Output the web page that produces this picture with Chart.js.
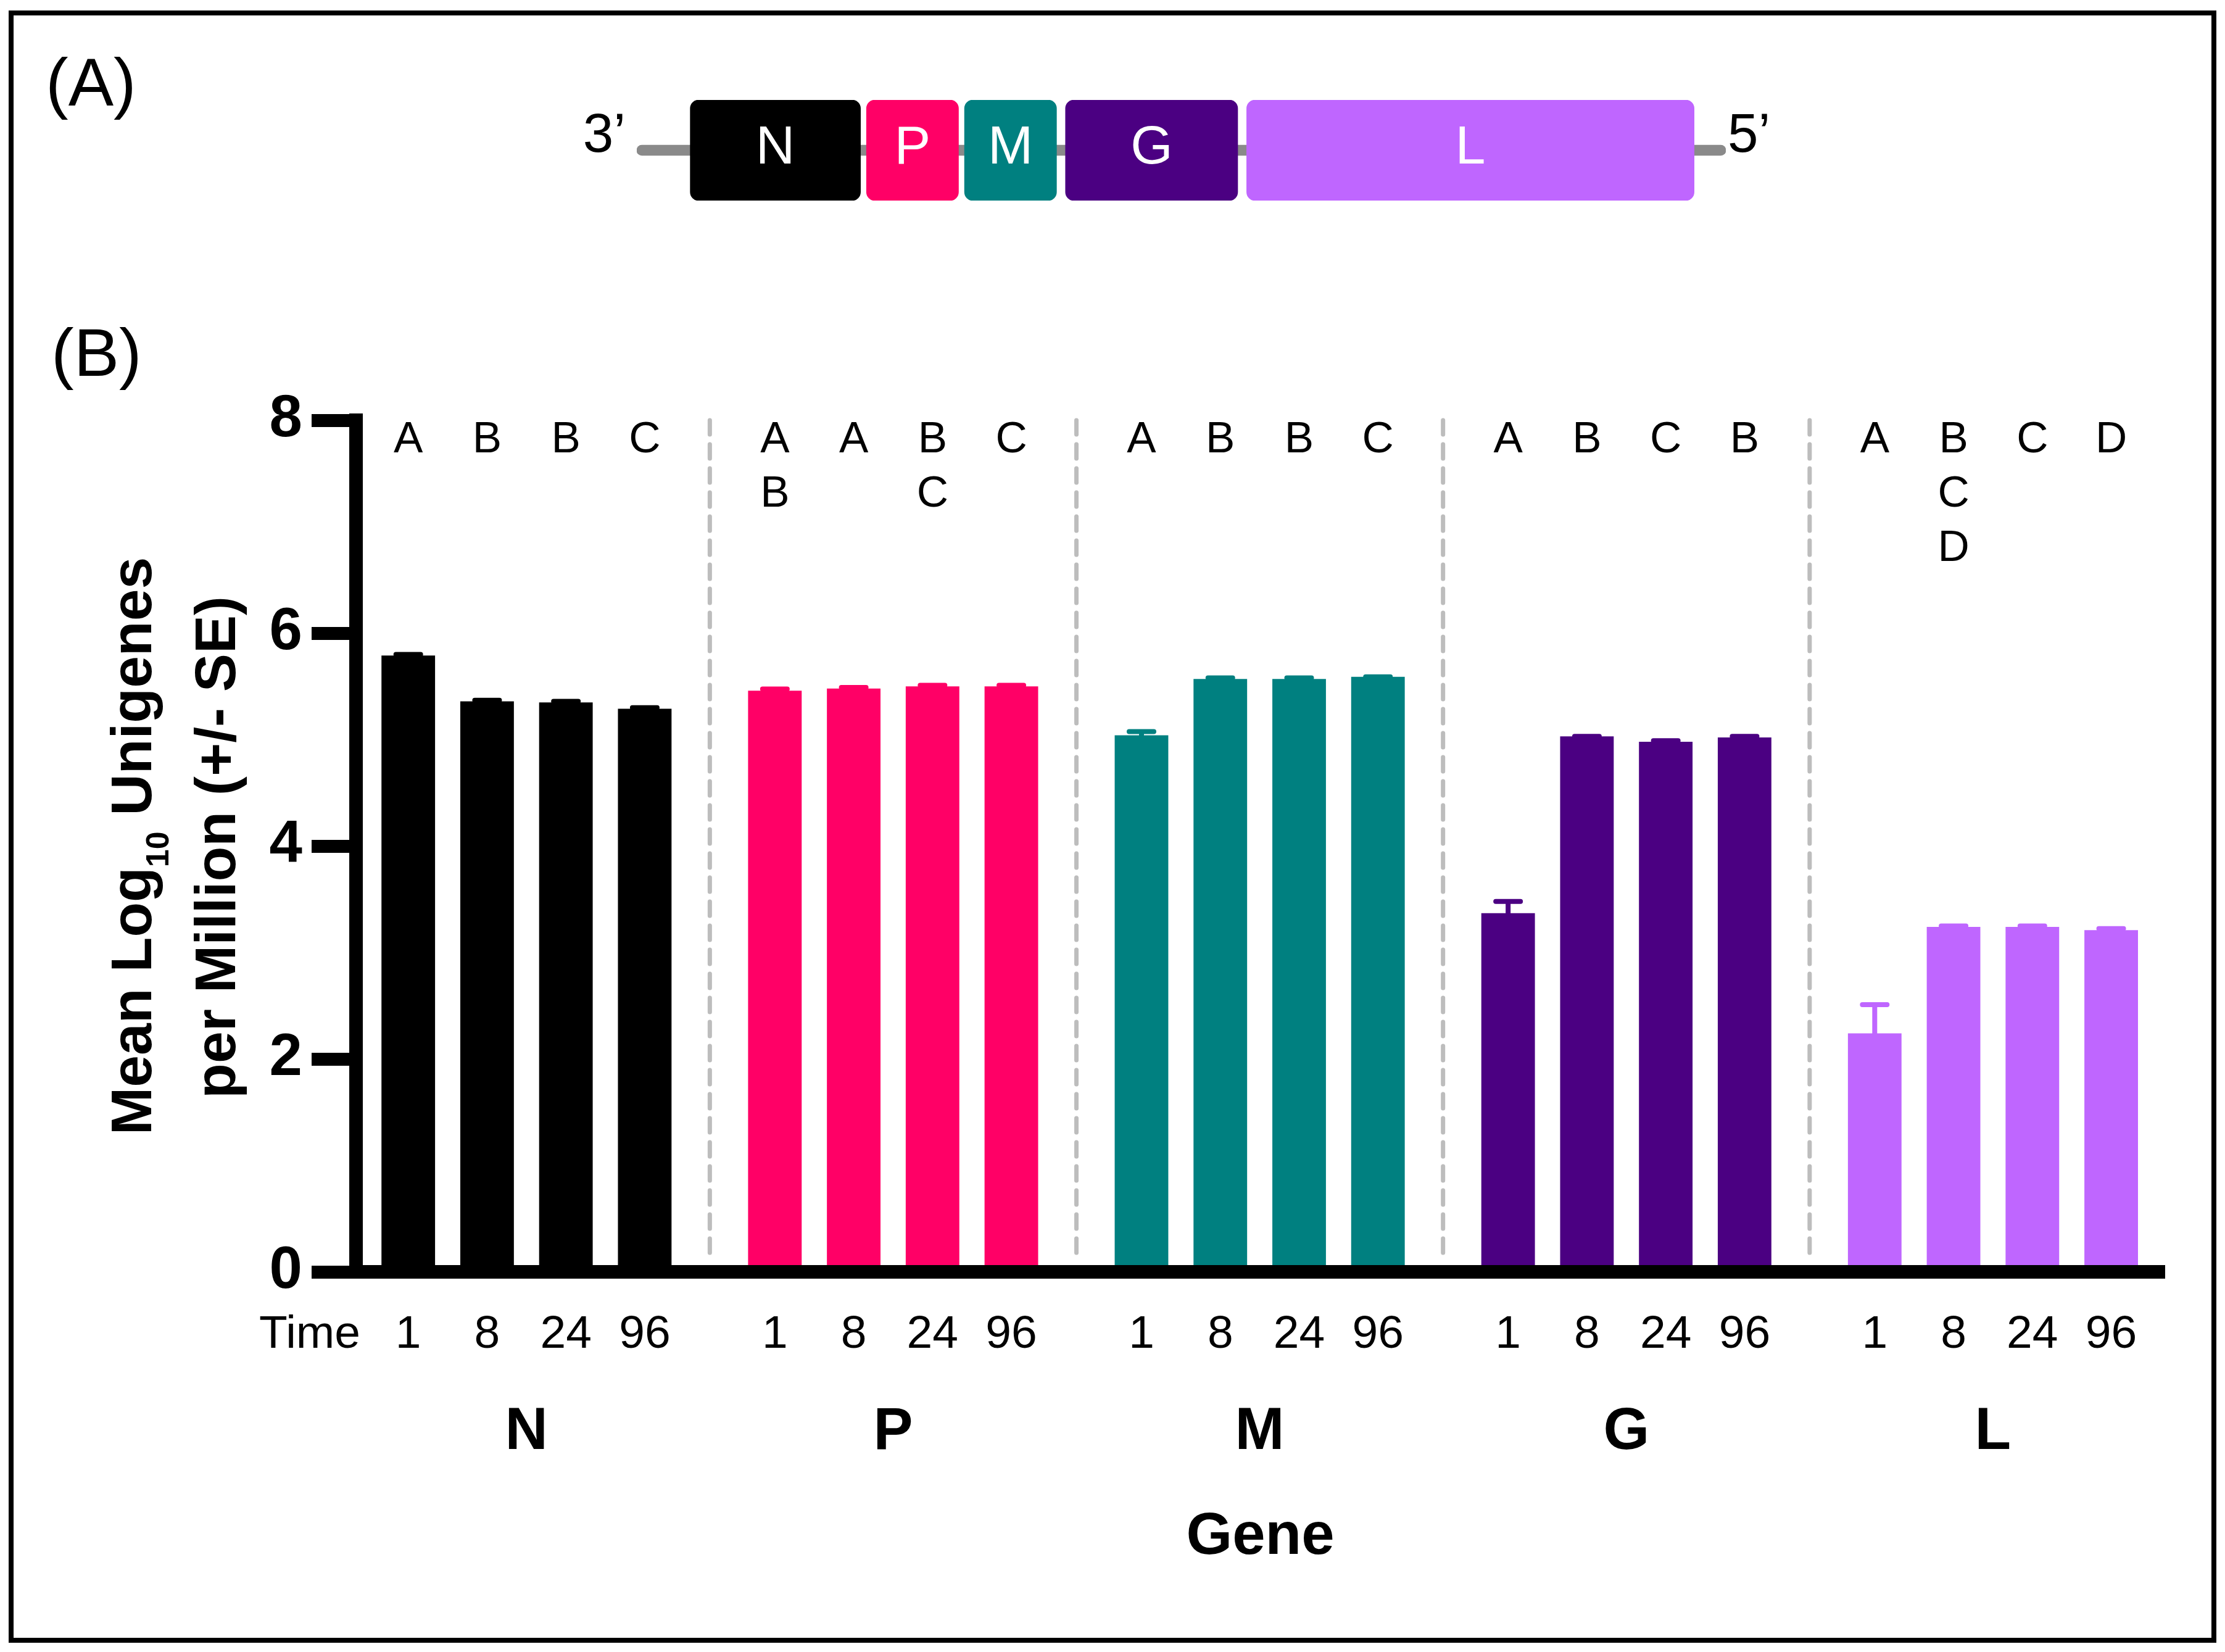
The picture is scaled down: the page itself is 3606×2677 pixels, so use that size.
<!DOCTYPE html>
<html>
<head>
<meta charset="utf-8">
<title>Viral gene expression</title>
<script src="https://cdn.jsdelivr.net/npm/chart.js@4.4.1/dist/chart.umd.min.js"></script>
<style>
    html, body { margin: 0; padding: 0; background: #fff; }
    #page { position: relative; width: 3606px; height: 2677px; overflow: hidden; background: #fff; }
    #frame { position: absolute; left: 14px; top: 17px; width: 3578px; height: 2645px; border: 8px solid #000; box-sizing: border-box; }
    #mainChart { position: absolute; left: 0; top: 0; }
    #genomeChart { position: absolute; left: 894px; top: 140px; }
</style>
</head>
<body>
<div id="page">
    <div id="frame"></div>
    <canvas id="mainChart" width="3606" height="2677"></canvas>
    <canvas id="genomeChart" width="2050" height="210"></canvas>
</div>
<script>
const FONT = '"Liberation Sans", Arial, sans-serif';

// genes and sampling times (h)
const genes = ['N', 'P', 'M', 'G', 'L'];
const timePoints = ['1', '8', '24', '96'];
const geneColors = ['#000000', '#FF0066', '#008080', '#4B0082', '#BF66FF'];

// mean log10 unigenes per million (order N, P, M, G, L)
const mean1h  = [5.79, 5.46, 5.04, 3.37, 2.24];
const mean8h  = [5.36, 5.48, 5.57, 5.03, 3.24];
const mean24h = [5.35, 5.50, 5.57, 4.98, 3.24];
const mean96h = [5.29, 5.50, 5.59, 5.02, 3.21];

// standard errors
const se1h  = [0.01, 0.015, 0.035, 0.11, 0.27];
const se8h  = [0.01, 0.01, 0.01, 0, 0.01];
const se24h = [0.01, 0.01, 0.01, 0.01, 0.01];
const se96h = [0.01, 0.01, 0, 0.01, 0.015];

// letters from the multiple comparisons
const letters1h  = ['A', 'AB', 'A', 'A', 'A'];
const letters8h  = ['B', 'A', 'B', 'B', 'BCD'];
const letters24h = ['B', 'BC', 'B', 'C', 'C'];
const letters96h = ['C', 'C', 'C', 'B', 'D'];

const yTicks = [0, 2, 4, 6, 8];

// genome map, 3' -> 5' (nt)
const genomeLength = 11000;
const geneStart = [540, 2320, 3310, 4330, 6160];
const geneEnd   = [2260, 3250, 4240, 6070, 10680];

const means = [mean1h, mean8h, mean24h, mean96h];
const errors = [se1h, se8h, se24h, se96h];
const letters = [letters1h, letters8h, letters24h, letters96h];

// dashed separators between genes
const gapLines = {
    id: 'gapLines',
    beforeDatasetsDraw(chart) {
        const {ctx, scales: {x, y}} = chart;
        ctx.save();
        ctx.strokeStyle = '#BDBDBD';
        ctx.lineWidth = 7;
        ctx.lineCap = 'round';
        ctx.setLineDash([23, 16]);
        for (let i = 0; i < genes.length - 1; i++) {
            const px = x.getPixelForValue(i + 0.5);
            ctx.beginPath();
            ctx.moveTo(px, y.getPixelForValue(8));
            ctx.lineTo(px, y.getPixelForValue(0) - 24);
            ctx.stroke();
        }
        ctx.restore();
    }
};

// upper SE bars
const errorBars = {
    id: 'errorBars',
    afterDatasetsDraw(chart) {
        const {ctx, scales: {y}} = chart;
        ctx.save();
        ctx.lineWidth = 8;
        ctx.lineCap = 'round';
        chart.data.datasets.forEach((ds, di) => {
            chart.getDatasetMeta(di).data.forEach((bar, i) => {
                const top = y.getPixelForValue(ds.data[i].y + ds.errors[i]);
                ctx.strokeStyle = geneColors[i];
                ctx.beginPath();
                ctx.moveTo(bar.x, bar.y);
                ctx.lineTo(bar.x, top);
                ctx.moveTo(bar.x - 20, top);
                ctx.lineTo(bar.x + 20, top);
                ctx.stroke();
            });
        });
        ctx.restore();
    }
};

// letters, time labels, y title, panel labels
const annotations = {
    id: 'annotations',
    afterDraw(chart) {
        const {ctx, scales: {y}} = chart;
        ctx.save();
        ctx.fillStyle = '#000';

        ctx.textAlign = 'center';
        ctx.textBaseline = 'alphabetic';
        const letterBase = y.getPixelForValue(8) + 52;
        const timeBase = y.getPixelForValue(0) + 123;
        chart.data.datasets.forEach((ds, di) => {
            chart.getDatasetMeta(di).data.forEach((bar, i) => {
                ctx.font = '71px ' + FONT;
                [...ds.letters[i]].forEach((ch, k) => {
                    ctx.fillText(ch, bar.x, letterBase + k * 88);
                });
                ctx.font = '75px ' + FONT;
                ctx.fillText(ds.label, bar.x, timeBase);
            });
        });
        ctx.font = '75px ' + FONT;
        ctx.textAlign = 'right';
        ctx.fillText('Time', 584, timeBase);

        // y axis title (two lines, subscript 10)
        const cy = (y.top + y.bottom) / 2;
        const big = 'bold 93px ' + FONT;
        const small = 'bold 52px ' + FONT;
        const parts = [['Mean Log', big, 0], ['10', small, 28], [' Unigenes', big, 0]];
        let total = 0;
        parts.forEach(p => { ctx.font = p[1]; total += ctx.measureText(p[0]).width; });
        ctx.save();
        ctx.translate(245, cy);
        ctx.rotate(-Math.PI / 2);
        ctx.textAlign = 'left';
        let px = -total / 2;
        parts.forEach(p => {
            ctx.font = p[1];
            ctx.fillText(p[0], px, p[2]);
            px += ctx.measureText(p[0]).width;
        });
        ctx.restore();
        ctx.save();
        ctx.translate(381, cy + 2);
        ctx.rotate(-Math.PI / 2);
        ctx.textAlign = 'center';
        ctx.font = big;
        ctx.fillText('per Million (+/- SE)', 0, 0);
        ctx.restore();

        // panel labels
        ctx.font = '110px ' + FONT;
        ctx.textAlign = 'left';
        ctx.fillText('(A)', 74, 171);
        ctx.fillText('(B)', 83, 609);
        ctx.restore();
    }
};

const datasets = timePoints.map((t, ti) => ({
    label: t,
    data: genes.map((g, gi) => ({x: gi, y: means[ti][gi]})),
    errors: errors[ti],
    letters: letters[ti],
    backgroundColor: geneColors,
    borderWidth: 0,
    categoryPercentage: 0.86,
    barPercentage: 0.68
}));

const boldFont = {family: FONT, size: 96, weight: 'bold'};

new Chart(document.getElementById('mainChart'), {
    type: 'bar',
    data: {datasets: datasets},
    options: {
        responsive: false,
        animation: false,
        layout: {padding: {top: 681, right: 98, left: 0, bottom: 0}},
        plugins: {legend: {display: false}, tooltip: {enabled: false}},
        scales: {
            x: {
                type: 'linear',
                min: -0.465,
                max: 4.468,
                offset: false,
                afterBuildTicks: s => { s.ticks = genes.map((g, i) => ({value: i})); },
                ticks: {
                    callback: v => genes[v],
                    font: boldFont,
                    color: '#000',
                    padding: 203,
                    maxRotation: 0,
                    autoSkip: false
                },
                grid: {display: false, drawTicks: false, offset: false},
                border: {display: true, width: 22, color: '#000', z: 1},
                title: {display: true, text: 'Gene', font: boldFont, color: '#000', padding: {top: 0, bottom: 128}},
                afterFit: s => { s.height = 616; }
            },
            y: {
                min: 0,
                max: 8,
                afterBuildTicks: s => { s.ticks = yTicks.map(v => ({value: v})); },
                ticks: {font: boldFont, color: '#000', padding: 15},
                grid: {drawOnChartArea: false, drawTicks: true, tickLength: 72, tickWidth: 21, tickColor: '#000'},
                border: {display: true, width: 22, color: '#000', z: 1},
                afterFit: s => { s.width = 577; }
            }
        }
    },
    plugins: [gapLines, errorBars, annotations]
});

// gene names inside the genome map + 3'/5' ends
const geneNames = {
    id: 'geneNames',
    afterDatasetsDraw(chart) {
        const {ctx, chartArea} = chart;
        const boxes = chart.getDatasetMeta(0).data;
        ctx.save();
        ctx.font = '88px ' + FONT;
        ctx.fillStyle = '#fff';
        ctx.textAlign = 'center';
        ctx.textBaseline = 'middle';
        boxes.forEach((bar, i) => {
            ctx.fillText(genes[i], (bar.x + bar.base) / 2, bar.y - 3);
        });
        ctx.fillStyle = '#000';
        ctx.font = '89px ' + FONT;
        ctx.textBaseline = 'alphabetic';
        ctx.textAlign = 'right';
        ctx.fillText('3\u2019', chartArea.left - 18, 106);
        ctx.textAlign = 'left';
        ctx.fillText('5\u2019', chartArea.right + 3, 106);
        ctx.restore();
    }
};

new Chart(document.getElementById('genomeChart'), {
    type: 'bar',
    data: {
        labels: ['genome'],
        datasets: [
            {
                data: genes.map((g, i) => ({x: [geneStart[i], geneEnd[i]], y: 'genome'})),
                backgroundColor: geneColors,
                borderRadius: 14,
                borderSkipped: false,
                grouped: false,
                barPercentage: 1,
                categoryPercentage: 1
            },
            {
                data: [{x: [0, genomeLength], y: 'genome'}],
                backgroundColor: '#8A8A8A',
                barThickness: 17,
                borderRadius: 8.5,
                borderSkipped: false,
                grouped: false
            }
        ]
    },
    options: {
        indexAxis: 'y',
        responsive: false,
        animation: false,
        layout: {padding: {left: 138, right: 147, top: 22, bottom: 25}},
        plugins: {legend: {display: false}, tooltip: {enabled: false}},
        scales: {
            x: {type: 'linear', display: false, min: 0, max: genomeLength},
            y: {display: false}
        }
    },
    plugins: [geneNames]
});
</script>
</body>
</html>
